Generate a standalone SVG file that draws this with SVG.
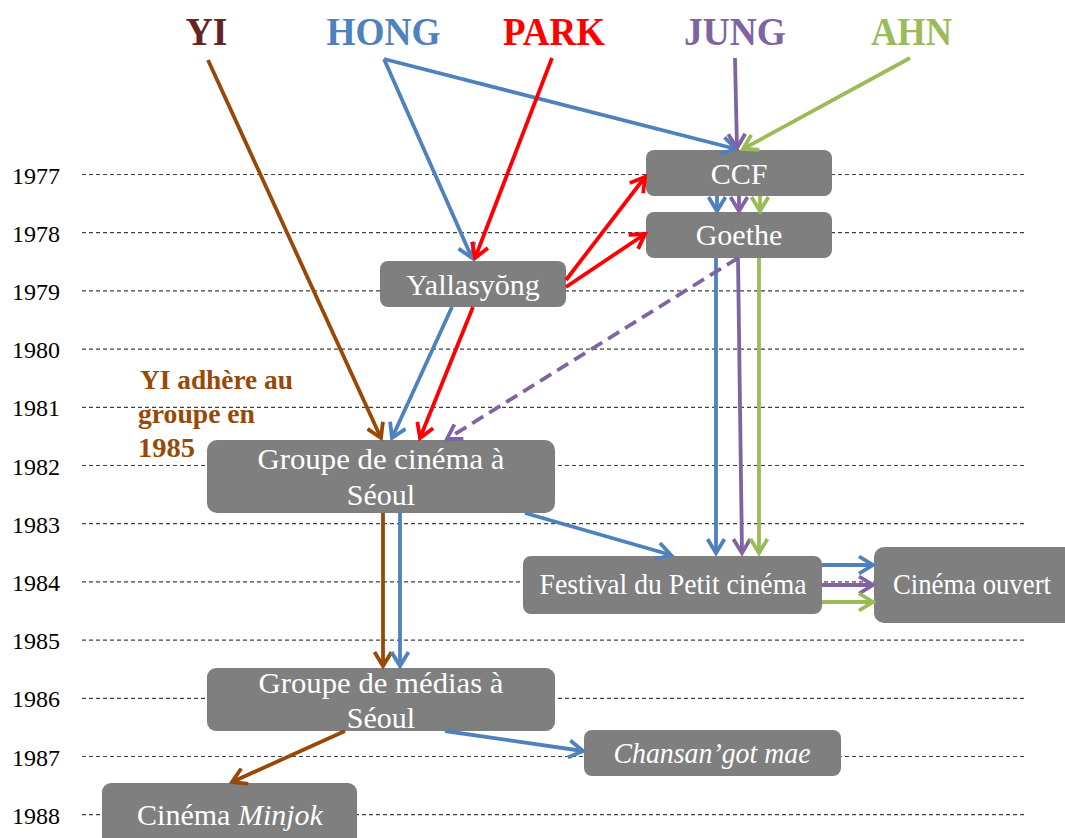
<svg xmlns="http://www.w3.org/2000/svg" width="1065" height="838" viewBox="0 0 1065 838">
<style>
.grid{stroke:#404040;stroke-width:1.2;stroke-dasharray:4 3;fill:none}
.yr{font-family:"Liberation Serif",serif;font-size:24px;fill:#000}
.hd{font-family:"Liberation Serif",serif;font-size:40px;font-weight:bold;text-anchor:middle}
.box{fill:#7F7F7F}
.nt{font-family:"Liberation Serif",serif;font-size:30px;fill:#fff;text-anchor:middle}
.it{font-style:italic}
.c{fill:none;stroke-width:3.8}
.brown{stroke:#984807}.blue{stroke:#4F81BD}.red{stroke:#FF0000}.purple{stroke:#8064A2}.green{stroke:#9BBB59}
.note{font-family:"Liberation Serif",serif;font-size:28px;font-weight:bold;fill:#984807}
</style>
<defs>
<marker id="aBrown" markerUnits="userSpaceOnUse" markerWidth="20" markerHeight="20" viewBox="0 0 20 20" refX="16" refY="10" orient="auto"><path d="M2,1.5 L16,10 L2,18.5" fill="none" stroke="#984807" stroke-width="3.8"/></marker>
<marker id="aBlue" markerUnits="userSpaceOnUse" markerWidth="20" markerHeight="20" viewBox="0 0 20 20" refX="16" refY="10" orient="auto"><path d="M2,1.5 L16,10 L2,18.5" fill="none" stroke="#4F81BD" stroke-width="3.8"/></marker>
<marker id="aRed" markerUnits="userSpaceOnUse" markerWidth="20" markerHeight="20" viewBox="0 0 20 20" refX="16" refY="10" orient="auto"><path d="M2,1.5 L16,10 L2,18.5" fill="none" stroke="#FF0000" stroke-width="3.8"/></marker>
<marker id="aPurple" markerUnits="userSpaceOnUse" markerWidth="20" markerHeight="20" viewBox="0 0 20 20" refX="16" refY="10" orient="auto"><path d="M2,1.5 L16,10 L2,18.5" fill="none" stroke="#8064A2" stroke-width="3.8"/></marker>
<marker id="aGreen" markerUnits="userSpaceOnUse" markerWidth="20" markerHeight="20" viewBox="0 0 20 20" refX="16" refY="10" orient="auto"><path d="M2,1.5 L16,10 L2,18.5" fill="none" stroke="#9BBB59" stroke-width="3.8"/></marker>
</defs>
<rect width="1065" height="838" fill="#fff"/>
<g id="timeline">
<line class="grid" x1="82" y1="174.5" x2="1025" y2="174.5"/>
<line class="grid" x1="82" y1="232.7" x2="1025" y2="232.7"/>
<line class="grid" x1="82" y1="290.9" x2="1025" y2="290.9"/>
<line class="grid" x1="82" y1="349.1" x2="1025" y2="349.1"/>
<line class="grid" x1="82" y1="407.3" x2="1025" y2="407.3"/>
<line class="grid" x1="82" y1="465.5" x2="1025" y2="465.5"/>
<line class="grid" x1="82" y1="523.7" x2="1025" y2="523.7"/>
<line class="grid" x1="82" y1="581.9" x2="1025" y2="581.9"/>
<line class="grid" x1="82" y1="640.1" x2="1025" y2="640.1"/>
<line class="grid" x1="82" y1="698.3" x2="1025" y2="698.3"/>
<line class="grid" x1="82" y1="756.5" x2="1025" y2="756.5"/>
<line class="grid" x1="82" y1="814.7" x2="1025" y2="814.7"/>
<text class="yr" x="12" y="183.5">1977</text>
<text class="yr" x="12" y="241.7">1978</text>
<text class="yr" x="12" y="299.9">1979</text>
<text class="yr" x="12" y="358.1">1980</text>
<text class="yr" x="12" y="416.3">1981</text>
<text class="yr" x="12" y="474.5">1982</text>
<text class="yr" x="12" y="532.7">1983</text>
<text class="yr" x="12" y="590.9">1984</text>
<text class="yr" x="12" y="649.1">1985</text>
<text class="yr" x="12" y="707.3">1986</text>
<text class="yr" x="12" y="765.5">1987</text>
<text class="yr" x="12" y="823.7">1988</text>
</g>
<g id="headers">
<text id="YI" class="hd" x="206.5" y="45" fill="#632523" textLength="42" lengthAdjust="spacingAndGlyphs">YI</text>
<text id="HONG" class="hd" x="383.5" y="45" fill="#4F81BD" textLength="114" lengthAdjust="spacingAndGlyphs">HONG</text>
<text id="PARK" class="hd" x="554" y="45" fill="#FF0000" textLength="102" lengthAdjust="spacingAndGlyphs">PARK</text>
<text id="JUNG" class="hd" x="735" y="45" fill="#8064A2" textLength="102" lengthAdjust="spacingAndGlyphs">JUNG</text>
<text id="AHN" class="hd" x="911.5" y="45" fill="#9BBB59" textLength="81" lengthAdjust="spacingAndGlyphs">AHN</text>
</g>
<g id="note">
<text class="note" x="140" y="389" textLength="153" lengthAdjust="spacingAndGlyphs">YI adhère au</text>
<text class="note" x="138" y="423" textLength="117" lengthAdjust="spacingAndGlyphs">groupe en</text>
<text class="note" x="138" y="457" textLength="57" lengthAdjust="spacingAndGlyphs">1985</text>
</g>
<g id="n-ccf"><rect class="box" x="646" y="150" width="186" height="46" rx="8"/><text class="nt" x="739" y="184">CCF</text></g>
<g id="n-goethe"><rect class="box" x="646" y="212" width="186" height="46" rx="8"/><text class="nt" x="739" y="245">Goethe</text></g>
<g id="n-yallasyong"><rect class="box" x="380" y="261" width="186" height="46" rx="8"/><text class="nt" x="473" y="295">Yallasyŏng</text></g>
<g id="n-groupe-cinema"><rect class="box" x="207" y="440" width="348" height="73" rx="10"/><text class="nt" x="381" y="469" textLength="247" lengthAdjust="spacingAndGlyphs">Groupe de cinéma à</text><text class="nt" x="381" y="505">Séoul</text></g>
<g id="n-festival"><rect class="box" x="523" y="556" width="299" height="58" rx="8"/><text class="nt" x="673" y="594" textLength="267" lengthAdjust="spacingAndGlyphs">Festival du Petit cinéma</text></g>
<g id="n-cinema-ouvert"><path class="box" d="M884,547 H1065 V623 H884 A10,10 0 0 1 874,613 V557 A10,10 0 0 1 884,547 Z"/><text class="nt" x="972" y="594" textLength="158" lengthAdjust="spacingAndGlyphs">Cinéma ouvert</text></g>
<g id="n-groupe-medias"><rect class="box" x="207" y="668" width="348" height="63" rx="9"/><text class="nt" x="381" y="693" textLength="245" lengthAdjust="spacingAndGlyphs">Groupe de médias à</text><text class="nt" x="381" y="728">Séoul</text></g>
<g id="n-chansangot"><rect class="box" x="584" y="730" width="257" height="46" rx="8"/><text class="nt it" x="712" y="763" textLength="197" lengthAdjust="spacingAndGlyphs">Chansan’got mae</text></g>
<g id="n-minjok"><path class="box" d="M111,783 H348 A9,9 0 0 1 357,792 V838 H102 V792 A9,9 0 0 1 111,783 Z"/><text class="nt" x="230" y="825">Cinéma <tspan class="it">Minjok</tspan></text></g>
<g id="connectors">
<line class="c brown" x1="208" y1="60" x2="381" y2="438" marker-end="url(#aBrown)"/>
<line class="c blue" x1="384" y1="59" x2="736" y2="149" marker-end="url(#aBlue)"/>
<line class="c blue" x1="384" y1="59" x2="472" y2="258" marker-end="url(#aBlue)"/>
<line class="c red" x1="552" y1="58" x2="475" y2="258" marker-end="url(#aRed)"/>
<line class="c purple" x1="735" y1="58" x2="737" y2="148" marker-end="url(#aPurple)"/>
<line class="c green" x1="910" y1="58" x2="743" y2="149" marker-end="url(#aGreen)"/>
<line class="c red" x1="566" y1="280" x2="645" y2="177" marker-end="url(#aRed)"/>
<line class="c red" x1="566" y1="287" x2="645" y2="234" marker-end="url(#aRed)"/>
<line class="c blue" x1="717" y1="196" x2="717" y2="211" marker-end="url(#aBlue)"/>
<line class="c purple" x1="739" y1="196" x2="739" y2="211" marker-end="url(#aPurple)"/>
<line class="c green" x1="760" y1="196" x2="760" y2="211" marker-end="url(#aGreen)"/>
<line class="c blue" x1="716" y1="258" x2="716" y2="553" marker-end="url(#aBlue)"/>
<line class="c purple" x1="738" y1="258" x2="742" y2="553" marker-end="url(#aPurple)"/>
<line class="c green" x1="759" y1="258" x2="759" y2="553" marker-end="url(#aGreen)"/>
<line class="c purple" x1="738" y1="258" x2="447" y2="439" stroke-dasharray="13 7" stroke-width="4" marker-end="url(#aPurple)"/>
<line class="c blue" x1="452" y1="307" x2="392" y2="438" marker-end="url(#aBlue)"/>
<line class="c red" x1="473" y1="307" x2="420" y2="438" marker-end="url(#aRed)"/>
<line class="c blue" x1="525" y1="513" x2="671" y2="555" marker-end="url(#aBlue)"/>
<line class="c brown" x1="383" y1="513" x2="383" y2="666" marker-end="url(#aBrown)"/>
<line class="c blue" x1="400" y1="513" x2="400" y2="666" marker-end="url(#aBlue)"/>
<line class="c blue" x1="822" y1="565" x2="873" y2="565" marker-end="url(#aBlue)"/>
<line class="c purple" x1="822" y1="585" x2="873" y2="585" marker-end="url(#aPurple)"/>
<line class="c green" x1="822" y1="602" x2="873" y2="602" marker-end="url(#aGreen)"/>
<line class="c blue" x1="445" y1="731" x2="583" y2="751" marker-end="url(#aBlue)"/>
<line class="c brown" x1="345" y1="731" x2="232" y2="782" marker-end="url(#aBrown)"/>
</g>
</svg>
